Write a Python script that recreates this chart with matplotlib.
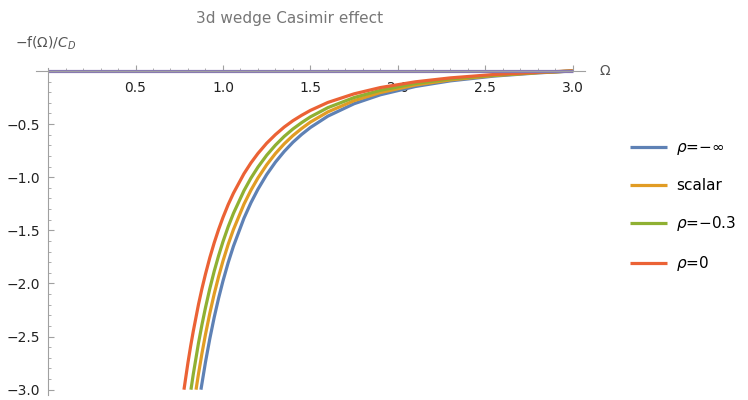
import numpy as np
import matplotlib.pyplot as plt

# values
om_red = [0.777, 0.80, 0.815, 0.83, 0.86, 0.88, 0.90, 0.925, 0.95, 0.975, 1.00, 1.03, 1.06,
          1.12, 1.16, 1.20, 1.25, 1.30, 1.35, 1.40, 1.45, 1.50, 1.60, 1.75, 1.90, 2.10,
          2.30, 2.55, 2.80, 3.00]
f_red = [-3.0, -2.744, -2.592, -2.452, -2.198, -2.048, -1.912, -1.756, -1.617, -1.492,
         -1.379, -1.257, -1.150, -0.967, -0.865, -0.776, -0.680, -0.599, -0.528, -0.468,
         -0.417, -0.371, -0.296, -0.215, -0.156, -0.102, -0.065, -0.033, -0.012, 0.0]

om_green = [0.817, 0.83, 0.86, 0.88, 0.90, 0.925, 0.95, 0.975, 1.00, 1.03, 1.06, 1.12,
            1.16, 1.20, 1.25, 1.30, 1.35, 1.40, 1.45, 1.50, 1.60, 1.75, 1.90, 2.10,
            2.30, 2.55, 2.80, 3.00]
f_green = [-3.0, -2.857, -2.562, -2.387, -2.228, -2.047, -1.884, -1.739, -1.607, -1.465,
           -1.340, -1.127, -1.008, -0.905, -0.793, -0.698, -0.616, -0.546, -0.486, -0.432,
           -0.345, -0.250, -0.182, -0.118, -0.075, -0.039, -0.014, 0.0]

om_orange = [0.846, 0.86, 0.88, 0.90, 0.925, 0.95, 0.975, 1.00, 1.03, 1.06, 1.12, 1.16,
             1.20, 1.25, 1.30, 1.35, 1.40, 1.45, 1.50, 1.60, 1.75, 1.90, 2.10, 2.30,
             2.55, 2.80, 3.00]
f_orange = [-3.0, -2.852, -2.657, -2.480, -2.279, -2.098, -1.936, -1.789, -1.631, -1.492,
            -1.254, -1.122, -1.007, -0.883, -0.777, -0.686, -0.608, -0.541, -0.481, -0.385,
            -0.279, -0.203, -0.132, -0.084, -0.043, -0.016, 0.0]

om_blue = [0.874, 0.90, 0.925, 0.95, 0.975, 1.00, 1.03, 1.06, 1.12, 1.16, 1.20, 1.25,
           1.30, 1.35, 1.40, 1.45, 1.50, 1.60, 1.75, 1.90, 2.10, 2.30, 2.55, 2.80, 3.00]
f_blue = [-3.0, -2.741, -2.518, -2.318, -2.139, -1.977, -1.803, -1.649, -1.386, -1.240,
          -1.113, -0.975, -0.858, -0.758, -0.671, -0.597, -0.532, -0.425, -0.308, -0.224,
          -0.146, -0.093, -0.048, -0.018, 0.0]

om_flat = [0.0, 3.0]
f_flat = [0.0, 0.0]

labels = ['$\\rho$=\u2212\u221e', 'scalar', '$\\rho$=\u22120.3', '$\\rho$=0']
colors = ['#5E81B5', '#E19C24', '#8FB032', '#EB6235', '#8778B3']

#-------------------------------------------------------------------
fig = plt.figure(figsize=(7.48, 4.0), dpi=100)
ax = fig.add_axes([36/748, 1 - 395/400, (585 - 36)/748, (395 - 67.8)/400])

lw = 2.3
ax.plot(om_blue, f_blue, color=colors[0], lw=lw, label=labels[0], solid_capstyle='butt')
ax.plot(om_orange, f_orange, color=colors[1], lw=lw, label=labels[1], solid_capstyle='butt')
ax.plot(om_green, f_green, color=colors[2], lw=lw, label=labels[2], solid_capstyle='butt')
ax.plot(om_red, f_red, color=colors[3], lw=lw, label=labels[3], solid_capstyle='butt')
ax.plot(om_flat, f_flat, color=colors[4], lw=lw, solid_capstyle='butt')

ax.set_xlim(-0.069, 3.07)
ax.set_ylim(-3.05, 0.03)

axcol = '#A0A0A0'
for s in ['top', 'right']:
    ax.spines[s].set_visible(False)
ax.spines['left'].set_position(('data', 0))
ax.spines['bottom'].set_position(('data', 0))
for s in ['left', 'bottom']:
    ax.spines[s].set_color(axcol)
    ax.spines[s].set_linewidth(0.8)

ax.set_xticks([0.5, 1.0, 1.5, 2.0, 2.5, 3.0])
ax.set_xticks(np.arange(0.1, 3.05, 0.1), minor=True)
ax.set_yticks([-0.5, -1.0, -1.5, -2.0, -2.5, -3.0])
ax.set_yticks(np.arange(-3.0, -0.05, 0.1), minor=True)
ax.set_xticklabels(['0.5', '1.0', '1.5', '2.0', '2.5', '3.0'])
ax.set_yticklabels(['\u22120.5', '\u22121.0', '\u22121.5', '\u22122.0', '\u22122.5', '\u22123.0'])

ax.tick_params(axis='both', which='major', direction='in', length=4.5, width=0.8,
               color=axcol, labelsize=10, labelcolor='#222222')
ax.tick_params(axis='both', which='minor', direction='in', length=2.5, width=0.6, color=axcol)
ax.tick_params(axis='x', pad=7)
ax.tick_params(axis='y', pad=6)

fig.text(290/748, 1 - 18/400, '3d wedge Casimir effect', ha='center', va='center',
         fontsize=11, color='#777777')
fig.text(15/748, 1 - 43/400, '\u2212f(\u03a9)/$C_D$', ha='left', va='center',
         fontsize=10, color='#555555')
fig.text(600/748, 1 - 71/400, '\u03a9', ha='left', va='center', fontsize=10, color='#555555')

ax.legend(loc='upper left', bbox_to_anchor=(630/748, 1 - 140/400),
          bbox_transform=fig.transFigure, frameon=False, fontsize=11,
          handlelength=2.4, handletextpad=0.6, labelspacing=1.38, borderpad=0,
          borderaxespad=0)

fig.savefig('out.png', dpi=100)
